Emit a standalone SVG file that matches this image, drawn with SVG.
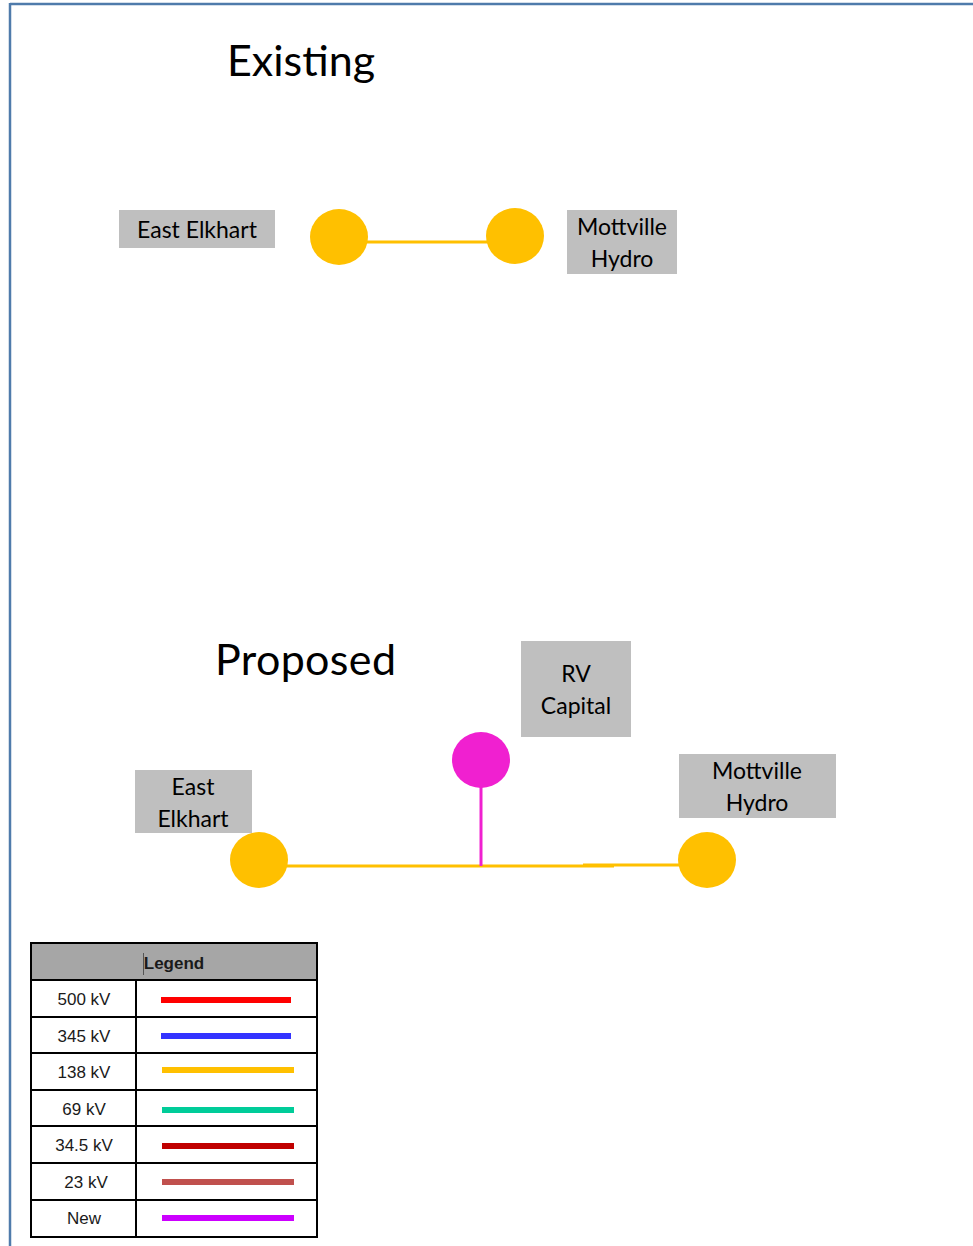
<svg xmlns="http://www.w3.org/2000/svg" width="973" height="1246" viewBox="0 0 973 1246">
<style>
.title{font-family:Lato,"Open Sans",sans-serif;font-size:43px;fill:#000}
.lbl{font-family:Lato,"Open Sans",sans-serif;font-size:23px;fill:#000;text-anchor:middle}
.box{fill:#BFBFBF}
.sub{fill:#FFC000}
.new{fill:#F020D0}
.l138{stroke:#FFC000;stroke-width:3;fill:none}
.lnew{stroke:#F020D0;stroke-width:3;fill:none}
.lg{font-family:"Liberation Sans",Arial,sans-serif;font-size:17px;fill:#1a1a1a;text-anchor:middle}
.grid{stroke:#000;stroke-width:2;fill:none}
.sw{stroke-width:6}
</style>
<rect width="973" height="1246" fill="#fff"/>
<g id="page-border" stroke="#4F7BAB" stroke-width="2.5" fill="none">
<line x1="10" y1="4" x2="973" y2="4"/>
<line x1="10" y1="3" x2="10" y2="1246"/>
</g>
<text class="title" x="227" y="76">Existing</text>
<text class="title" x="215" y="675" textLength="181">Proposed</text>
<g id="connectors">
<line class="l138" x1="366" y1="242" x2="488" y2="242"/>
<line class="l138" x1="286" y1="866" x2="614" y2="866"/>
<line class="l138" x1="583" y1="865" x2="680" y2="865"/>
<line class="lnew" x1="481" y1="786" x2="481" y2="866"/>
</g>
<g id="ex-east-elkhart">
<rect class="box" x="119" y="210" width="156" height="38"/>
<text class="lbl" x="197" y="238">East Elkhart</text>
<ellipse class="sub" cx="339" cy="237" rx="29" ry="28"/>
</g>
<g id="ex-mottville-hydro">
<rect class="box" x="567" y="210" width="110" height="64"/>
<text class="lbl" x="622" y="235">Mottville</text>
<text class="lbl" x="622" y="267">Hydro</text>
<ellipse class="sub" cx="515" cy="236" rx="29" ry="28"/>
</g>
<g id="pr-rv-capital">
<rect class="box" x="521" y="641" width="110" height="96"/>
<text class="lbl" x="576" y="682">RV</text>
<text class="lbl" x="576" y="714">Capital</text>
<ellipse class="new" cx="481" cy="760" rx="29" ry="28"/>
</g>
<g id="pr-east-elkhart">
<rect class="box" x="135" y="770" width="117" height="63"/>
<text class="lbl" x="193" y="795">East</text>
<text class="lbl" x="193" y="827">Elkhart</text>
<ellipse class="sub" cx="259" cy="860" rx="29" ry="28"/>
</g>
<g id="pr-mottville-hydro">
<rect class="box" x="679" y="754" width="157" height="64"/>
<text class="lbl" x="757" y="779">Mottville</text>
<text class="lbl" x="757" y="811">Hydro</text>
<ellipse class="sub" cx="707" cy="860" rx="29" ry="28"/>
</g>
<g id="legend">
<rect x="31" y="943" width="286" height="37" fill="#A6A6A6"/>
<rect class="grid" x="31" y="943" width="286" height="294"/>
<g class="grid">
<line x1="31" y1="980" x2="317" y2="980"/>
<line x1="31" y1="1017" x2="317" y2="1017"/>
<line x1="31" y1="1053" x2="317" y2="1053"/>
<line x1="31" y1="1090" x2="317" y2="1090"/>
<line x1="31" y1="1126" x2="317" y2="1126"/>
<line x1="31" y1="1163" x2="317" y2="1163"/>
<line x1="31" y1="1200" x2="317" y2="1200"/>
<line x1="136" y1="980" x2="136" y2="1237"/>
</g>
<line x1="143.5" y1="953" x2="143.5" y2="975" stroke="#555" stroke-width="1"/>
<text class="lg" x="174" y="969" style="font-weight:bold">Legend</text>
<text class="lg" x="84" y="1005">500 kV</text>
<text class="lg" x="84" y="1042">345 kV</text>
<text class="lg" x="84" y="1078">138 kV</text>
<text class="lg" x="84" y="1115">69 kV</text>
<text class="lg" x="84" y="1151">34.5 kV</text>
<text class="lg" x="86" y="1188">23 kV</text>
<text class="lg" x="84" y="1224">New</text>
<line class="sw" x1="161" y1="1000" x2="291" y2="1000" stroke="#FF0000"/>
<line class="sw" x1="161" y1="1036" x2="291" y2="1036" stroke="#3333FF"/>
<line class="sw" x1="162" y1="1070" x2="294" y2="1070" stroke="#FFC000"/>
<line class="sw" x1="162" y1="1110" x2="294" y2="1110" stroke="#00CC99"/>
<line class="sw" x1="162" y1="1146" x2="294" y2="1146" stroke="#C00000"/>
<line class="sw" x1="162" y1="1182" x2="294" y2="1182" stroke="#C0504D"/>
<line class="sw" x1="162" y1="1218" x2="294" y2="1218" stroke="#CC00FF"/>
</g>
</svg>
